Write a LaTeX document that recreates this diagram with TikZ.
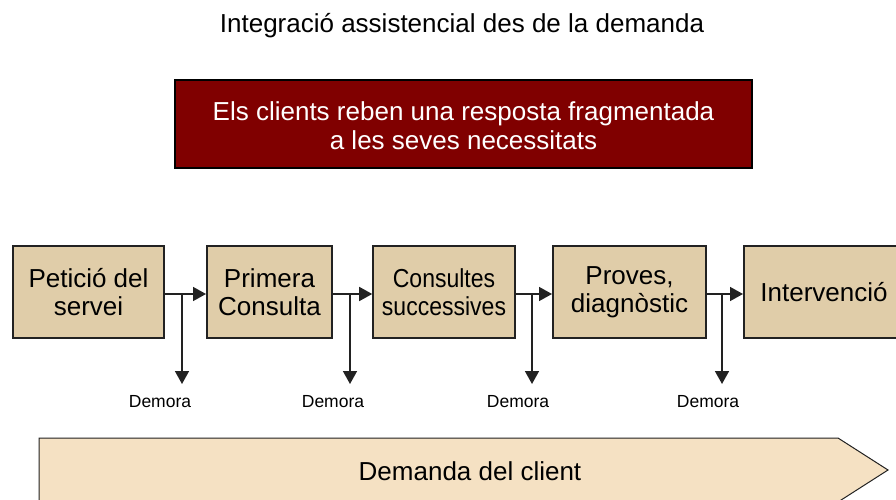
\documentclass[tikz,border=0pt]{standalone}
\usepackage{fontspec}
\setmainfont{Liberation Sans}
\usetikzlibrary{arrows.meta}
\definecolor{darkred}{RGB}{128,0,0}
\definecolor{tanbox}{RGB}{224,205,169}
\definecolor{lightbeige}{RGB}{245,225,195}
\definecolor{lineclr}{RGB}{34,34,34}
\tikzset{
  x=1pt,y=-1pt,
  stagebox/.style={draw=lineclr,line width=2pt,fill=tanbox,inner sep=0pt,align=center,
     font=\fontsize{26}{28}\selectfont},
  flowarrow/.style={draw=lineclr,line width=1.6pt,-{Triangle[length=13pt,width=14pt]}},
  delaylabel/.style={font=\fontsize{17.5}{20}\selectfont,inner sep=0pt},
}
\begin{document}
\begin{tikzpicture}
\useasboundingbox (0,0) rectangle (896,500);
\node[font=\fontsize{26}{28}\selectfont] (title) at (462,26) {Integració assistencial des de la demanda};
\node[draw=black,line width=1.8pt,fill=darkred,minimum width=577pt,minimum height=88pt,inner sep=0pt] (msg) at (463.5,124) {};
\node[text=white,align=center,font=\fontsize{26}{29}\selectfont,inner sep=0pt] (msgtext) at (463.5,126)
      {Els clients reben una resposta fragmentada\\a les seves necessitats};
% stage boxes
\node[stagebox,minimum width=151pt,minimum height=92pt] (b1) at (88.5,292) {Petició del\\servei};
\node[stagebox,minimum width=125pt,minimum height=92pt] (b2) at (269.5,292) {Primera\\Consulta};
\node[stagebox,minimum width=140pt,minimum height=92pt] (b3) at (444,292)
   {\scalebox{0.885}[1]{\parbox{160pt}{\centering\fontsize{26}{28}\selectfont Consultes\\successives}}};
\node[stagebox,minimum width=153pt,minimum height=92pt] (b4) at (629.5,292) {Proves,\\diagnòstic};
\node[stagebox,minimum width=160pt,minimum height=92pt,text width=160pt] (b5) at (824,292) {Intervenció};
% branch points and delay ends
\coordinate (j1) at (182,294); \coordinate (d1) at (182,384);
\coordinate (j2) at (350,294); \coordinate (d2) at (350,384);
\coordinate (j3) at (532,294); \coordinate (d3) at (532,384);
\coordinate (j4) at (722,294); \coordinate (d4) at (722,384);
\draw[flowarrow] (b1.east |- j1) -- (b2.west |- j1);
\draw[flowarrow] (b2.east |- j2) -- (b3.west |- j2);
\draw[flowarrow] (b3.east |- j3) -- (b4.west |- j3);
\draw[flowarrow] (b4.east |- j4) -- (b5.west |- j4);
\draw[flowarrow] (j1) -- (d1);
\draw[flowarrow] (j2) -- (d2);
\draw[flowarrow] (j3) -- (d3);
\draw[flowarrow] (j4) -- (d4);
\node[delaylabel] (l1) at (160,402) {Demora};
\node[delaylabel] (l2) at (333,402) {Demora};
\node[delaylabel] (l3) at (518,402) {Demora};
\node[delaylabel] (l4) at (708,402) {Demora};
% bottom arrow
\draw[draw=lineclr,line width=1pt,fill=lightbeige] (39,438) -- (838,438) -- (888,470) -- (838,502) -- (39,502) -- cycle;
\node[font=\fontsize{26}{28}\selectfont] (demand) at (470,471) {Demanda del client};
\end{tikzpicture}
\end{document}
